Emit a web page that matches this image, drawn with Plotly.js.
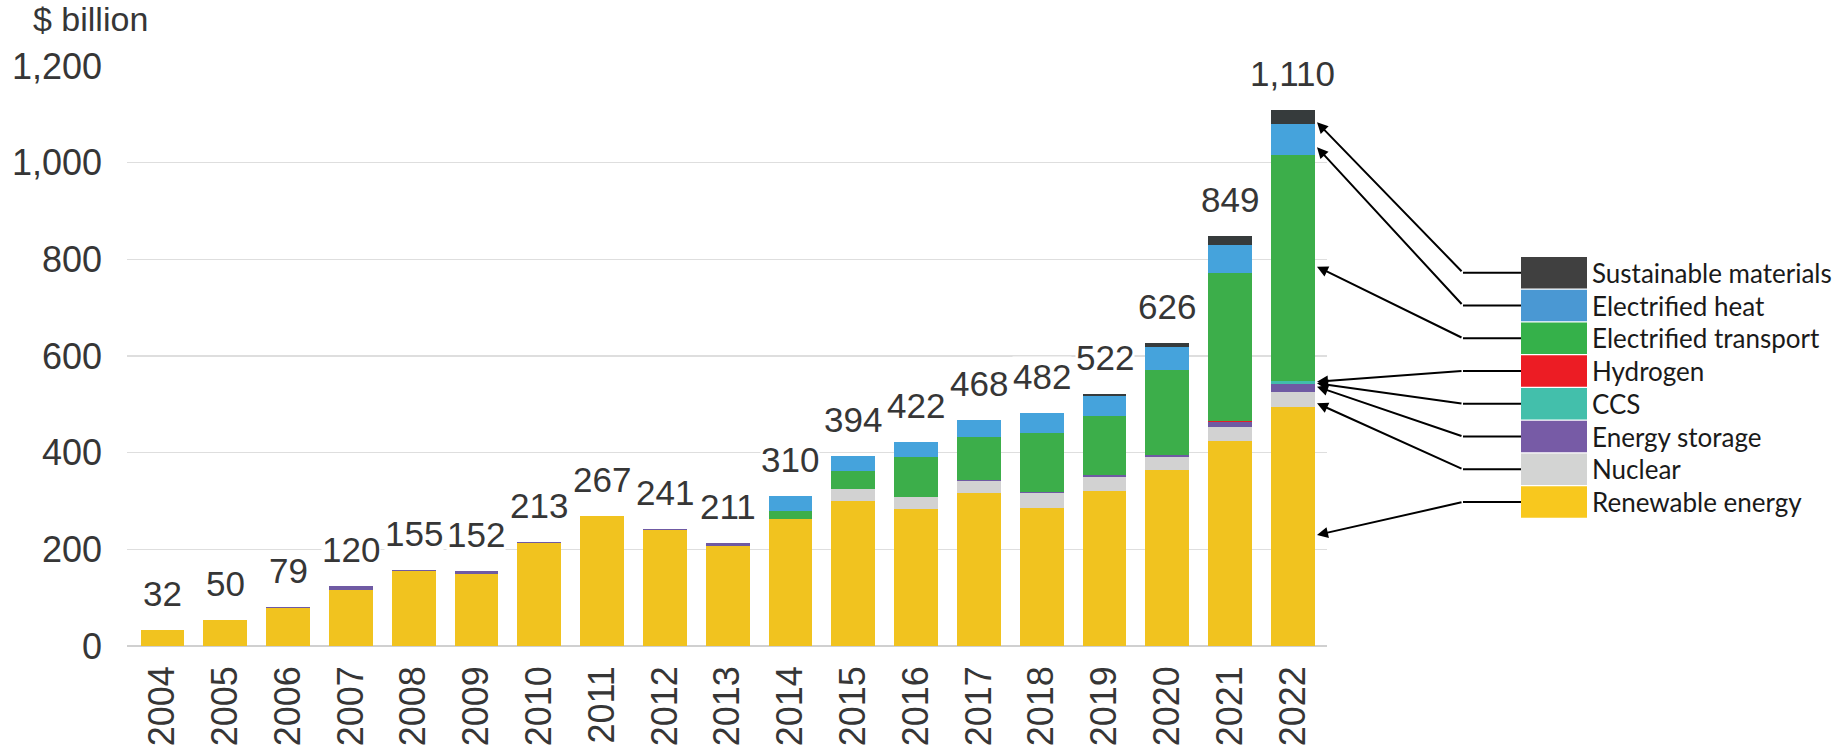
<!DOCTYPE html>
<html>
<head>
<meta charset="utf-8">
<script src="https://cdn.plot.ly/plotly-3.0.1.min.js"></script>
<style>html,body{margin:0;padding:0;background:#fff;}#chart{width:1836px;height:756px;}</style>
</head>
<body>
<div id="chart"></div>
<script>
// ---- data ----
const years = ['2004','2005','2006','2007','2008','2009','2010','2011','2012','2013','2014','2015','2016','2017','2018','2019','2020','2021','2022'];
const totalLabels = [32, 50, 79, 120, 155, 152, 213, 267, 241, 211, 310, 394, 422, 468, 482, 522, 626, 849, 1110];

const renewable = [33, 53, 79, 116, 156, 150, 213, 268, 241, 206, 263, 301, 284, 316, 286, 321, 364, 425, 495];
const nuclear   = [0, 0, 0, 0, 0, 0, 0, 0, 0, 0, 0, 24, 24, 26, 30, 29, 28, 28, 31];
const storage   = [0, 1, 1, 9, 2, 6, 2, 2, 2, 8, 0, 0, 1, 1, 2, 3, 3, 10, 16];
const ccs       = [0, 0, 0, 0, 0, 0, 0, 0, 0, 0, 0, 0, 0, 0, 0, 0, 1, 1, 6];
const hydrogen  = [0, 0, 0, 0, 0, 0, 0, 0, 0, 0, 0, 0, 0, 0, 0, 0, 0, 1, 1];
const transport = [0, 0, 0, 0, 0, 0, 0, 0, 0, 0, 17, 38, 82, 90, 122, 123, 175, 306, 466];
const heat      = [0, 0, 0, 0, 0, 0, 0, 0, 0, 0, 30, 31, 31, 35, 42, 41, 48, 59, 64];
const materials = [0, 0, 0, 0, 0, 0, 0, 0, 0, 0, 0, 0, 0, 0, 0, 5, 7, 19, 31];

const seriesNames = ['Renewable energy','Nuclear','Energy storage','CCS','Hydrogen','Electrified transport','Electrified heat','Sustainable materials'];
const seriesValues = [renewable, nuclear, storage, ccs, hydrogen, transport, heat, materials];
const barColors    = ['#f1c31f','#d2d2d2','#6f5aa3','#42bdab','#e31e26','#3cae4a','#45a3dc','#363b3c'];
const legendColors = ['#f8c81e','#d3d4d3','#775ba6','#43bfab','#ec1c24','#35b14a','#4a98d3','#404040'];

// ---- geometry of the plot area (pixels) ----
const L = 127, R = 1327, T = 66, B = 646;
const W = R - L, H = B - T;
const px = x => (x - L) / W;
const py = y => (B - y) / H;

const textFont = 'Liberation Sans, Arial, sans-serif';
const textColor = '#363636';

const traces = seriesNames.map((n, k) => ({
  type: 'bar', name: n, x: years, y: seriesValues[k],
  marker: {color: barColors[k], line: {width: 0}},
  hoverinfo: 'x+y+name'
}));

const sums = years.map((_, i) => seriesValues.reduce((s, arr) => s + arr[i], 0));

const annotations = [];
years.forEach((yr, i) => {
  annotations.push({
    x: i, y: sums[i], xref: 'x', yref: 'y',
    text: totalLabels[i].toLocaleString('en-US'),
    showarrow: false, yanchor: 'bottom', xanchor: 'center', yshift: 16,
    bgcolor: '#ffffff', borderpad: 0,
    font: {family: textFont, size: 35, color: textColor}
  });
});

// legend (top to bottom) with connectors to the 2022 bar
const legendOrder = [7, 6, 5, 4, 3, 2, 1, 0];
const boxLeft = 1521, boxRight = 1587, boxTop0 = 257, boxPitch = 32.75, boxH = 31.5;
const elbowX = 1463;
const tipX = 1317;
const tipY = [122.3, 147.3, 266.7, 381.7, 383.3, 386.7, 403.3, 535]; // arrow tips on the 2022 bar
const shapes = [];
legendOrder.forEach((k, j) => {
  const top = boxTop0 + j * boxPitch;
  const cy = top + boxH / 2;
  shapes.push({type: 'rect', xref: 'paper', yref: 'paper',
    x0: px(boxLeft), x1: px(boxRight), y0: py(top), y1: py(top + boxH),
    fillcolor: legendColors[k], line: {width: 0}});
  shapes.push({type: 'line', xref: 'paper', yref: 'paper',
    x0: px(elbowX), x1: px(boxLeft), y0: py(cy), y1: py(cy),
    line: {color: '#000', width: 2}});
  annotations.push({
    xref: 'paper', yref: 'paper', x: px(tipX), y: py(tipY[j]),
    ax: elbowX - tipX, ay: cy - tipY[j], axref: 'pixel', ayref: 'pixel',
    text: '', showarrow: true, arrowhead: 2, arrowsize: 1.1, arrowwidth: 2, arrowcolor: '#000', standoff: 0
  });
  annotations.push({
    xref: 'paper', yref: 'paper', x: px(1590), y: py(cy),
    xanchor: 'left', yanchor: 'middle', showarrow: false,
    text: seriesNames[k],
    font: {family: 'Lato, Noto Sans, sans-serif', size: 26, color: '#1a1a1a'}
  });
});

const layout = {
  width: 1836, height: 756,
  margin: {l: L, r: 1836 - R, t: T, b: 756 - B, pad: 0},
  paper_bgcolor: '#fff', plot_bgcolor: '#fff',
  barmode: 'stack', bargap: 0.3, showlegend: false,
  title: {text: '$ billion', x: 33 / 1836, xanchor: 'left', xref: 'container',
          y: 1 - 7 / 756, yanchor: 'top', yref: 'container',
          font: {family: textFont, size: 34, color: textColor}},
  xaxis: {type: 'category', range: [-0.565, 18.543], tickangle: -90,
          showgrid: false, zeroline: false, showline: false, ticks: '',
          ticklabelstandoff: 12,
          tickfont: {family: textFont, size: 36, color: textColor}},
  yaxis: {range: [0, 1200], dtick: 200, tick0: 0, tickformat: ',d',
          gridcolor: '#dedede', gridwidth: 1.5,
          zeroline: true, zerolinecolor: '#d0d0d0', zerolinewidth: 2,
          showline: false, ticks: '', ticklabelstandoff: 24,
          tickfont: {family: textFont, size: 36, color: textColor}},
  annotations: annotations,
  shapes: shapes
};

Plotly.newPlot('chart', traces, layout, {displayModeBar: false, staticPlot: true});
</script>
</body>
</html>
